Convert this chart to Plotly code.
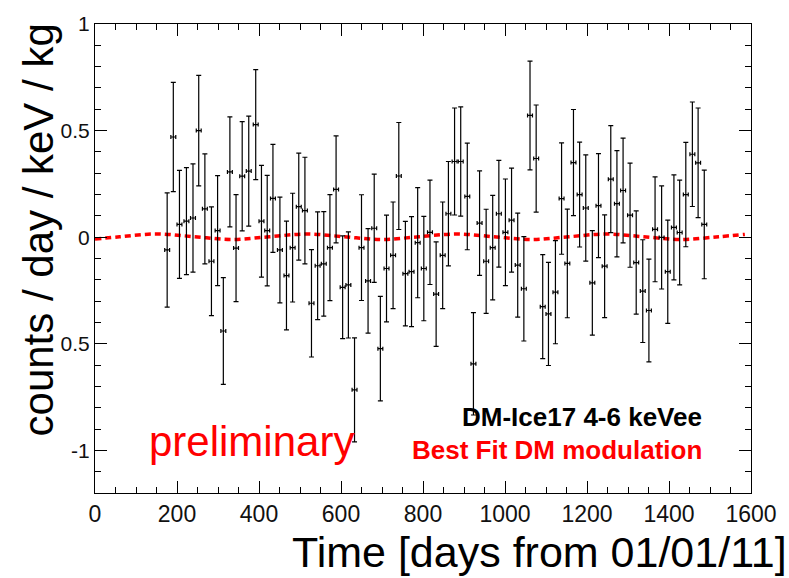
import plotly.graph_objects as go

# ---- data ----
days = [176, 191, 206, 223, 239, 253, 268, 284, 299, 313, 329, 344, 359, 375, 392, 406,
        420, 434, 451, 467, 482, 497, 512, 528, 543, 558, 573, 588, 604, 618, 633, 650,
        666, 681, 696, 711, 727, 741, 757, 772, 787, 802, 817, 832, 848, 862, 877, 892,
        908, 923, 938, 954, 970, 985, 1001, 1016, 1031, 1046, 1061, 1076, 1092, 1106,
        1123, 1138, 1152, 1167, 1182, 1197, 1213, 1228, 1243, 1258, 1273, 1288, 1305,
        1320, 1336, 1351, 1366, 1382, 1397, 1412, 1426, 1441, 1457, 1471, 1486]

rates = [-0.06, 0.47, 0.06, 0.075, 0.09, 0.50, 0.133, -0.113, 0.031, -0.44,
         0.306, -0.051, 0.286, 0.31, 0.528, 0.075, 0.031, 0.182, -0.06, -0.18,
         -0.049, 0.143, 0.125, -0.31, -0.134, -0.125, -0.049, 0.224, -0.235, -0.224,
         -0.716, -0.049, -0.205, 0.042, -0.523, -0.147, -0.085, 0.287, -0.171, -0.162,
         -0.026, -0.147, 0.023, -0.267, -0.085, 0.11, 0.355, 0.355, 0.191, -0.594,
         0.066, -0.113, -0.049, 0.11, 0.023, 0.08, -0.131, -0.242, 0.571, 0.369,
         -0.326, -0.36, -0.258, 0.181, -0.123, 0.35, 0.2, 0.137, -0.214, 0.148,
         -0.136, 0.272, 0.157, 0.219, 0.103, -0.119, -0.253, -0.344, 0.037, -0.001,
         -0.162, 0.046, 0.022, 0.2, 0.389, 0.349, 0.06]

rate_err = [0.268, 0.256, 0.253, 0.251, 0.254, 0.259, 0.258, 0.255, 0.258, 0.25,
            0.258, 0.251, 0.256, 0.258, 0.258, 0.262, 0.259, 0.253, 0.248, 0.255,
            0.255, 0.251, 0.25, 0.252, 0.253, 0.245, 0.249, 0.251, 0.241, 0.249,
            0.244, 0.248, 0.245, 0.254, 0.245, 0.25, 0.25, 0.251, 0.245, 0.258,
            0.258, 0.245, 0.245, 0.245, 0.25, 0.245, 0.251, 0.256, 0.25, 0.24,
            0.245, 0.244, 0.245, 0.25, 0.25, 0.244, 0.244, 0.245, 0.255, 0.251,
            0.244, 0.242, 0.242, 0.261, 0.255, 0.249, 0.246, 0.249, 0.245, 0.244,
            0.241, 0.251, 0.249, 0.246, 0.244, 0.242, 0.241, 0.241, 0.246, 0.242,
            0.242, 0.246, 0.246, 0.245, 0.245, 0.257, 0.255]

day_err = [6] * len(days)

fit_days = [0, 60, 152, 243, 334, 425, 517, 608, 699, 790, 882, 973, 1064, 1156,
            1247, 1338, 1430, 1521, 1585]
fit_rates = [-0.009, 0.002, 0.015, 0.002, -0.011, 0.002, 0.015, 0.002, -0.011, 0.002,
             0.015, 0.002, -0.011, 0.002, 0.015, 0.002, -0.011, 0.002, 0.013]

x_ticks = [0, 200, 400, 600, 800, 1000, 1200, 1400, 1600]
y_ticks = [-1, -0.5, 0, 0.5, 1]
y_tick_text = ["-1", "0.5", "0", "0.5", "1"]

FONT = "Liberation Sans, Arial, Helvetica, sans-serif"

fig = go.Figure()

fig.add_trace(go.Scatter(
    x=fit_days, y=fit_rates, mode="lines",
    line=dict(color="#ff0000", width=3.5, dash="6px,4px", shape="spline"),
    hoverinfo="skip", showlegend=False))

fig.add_trace(go.Scatter(
    x=days, y=rates, mode="markers",
    marker=dict(size=1, color="black"),
    error_y=dict(type="data", array=rate_err, visible=True, color="black",
                 thickness=1.2, width=2.5),
    error_x=dict(type="data", array=day_err, visible=True, color="black",
                 thickness=1.2, width=2),
    showlegend=False))

fig.update_layout(
    width=789, height=578,
    margin=dict(l=95, r=31, t=16, b=85),
    paper_bgcolor="white", plot_bgcolor="white",
    font=dict(family=FONT, color="black"),
    xaxis=dict(range=[0, 1600], tickmode="array", tickvals=x_ticks,
               showgrid=False, zeroline=False,
               showline=True, linecolor="black", linewidth=1, mirror="ticks",
               ticks="inside", ticklen=12, tickcolor="black", tickwidth=1,
               tickfont=dict(size=23, family=FONT, color="#111"),
               minor=dict(dtick=50, tick0=0, ticks="inside", ticklen=6,
                          tickcolor="black", showgrid=False)),
    yaxis=dict(range=[-1.2, 1], tickmode="array", tickvals=y_ticks,
               ticktext=y_tick_text,
               showgrid=False, zeroline=False,
               showline=True, linecolor="black", linewidth=1, mirror="ticks",
               ticks="inside", ticklen=12, tickcolor="black", tickwidth=1,
               tickfont=dict(size=21, family=FONT, color="#111"),
               minor=dict(dtick=0.1, tick0=0, ticks="inside", ticklen=6,
                          tickcolor="black", showgrid=False)),
    annotations=[
        dict(text="counts / day / keV / kg", xref="paper", yref="paper",
             x=-0.086, y=0.561, xanchor="center", yanchor="middle",
             textangle=-90, showarrow=False, font=dict(size=42, family=FONT)),
        dict(text="Time [days from 01/01/11]", xref="paper", yref="paper",
             x=1.058, y=-0.126, xanchor="right", yanchor="middle",
             showarrow=False, font=dict(size=43, family=FONT)),
        dict(text="preliminary", xref="x", yref="y", x=128, y=-0.958,
             xanchor="left", yanchor="middle", showarrow=False,
             font=dict(size=42, family=FONT, color="#ff0000")),
        dict(text="<b>DM-Ice17 4-6 keVee</b>", xref="x", yref="y", x=1485, y=-0.845,
             xanchor="right", yanchor="middle", showarrow=False,
             font=dict(size=26, family=FONT, color="black")),
        dict(text="<b>Best Fit DM modulation</b>", xref="x", yref="y", x=1485, y=-1.0,
             xanchor="right", yanchor="middle", showarrow=False,
             font=dict(size=26, family=FONT, color="#ff0000")),
    ],
)

fig.write_html("out.html")
